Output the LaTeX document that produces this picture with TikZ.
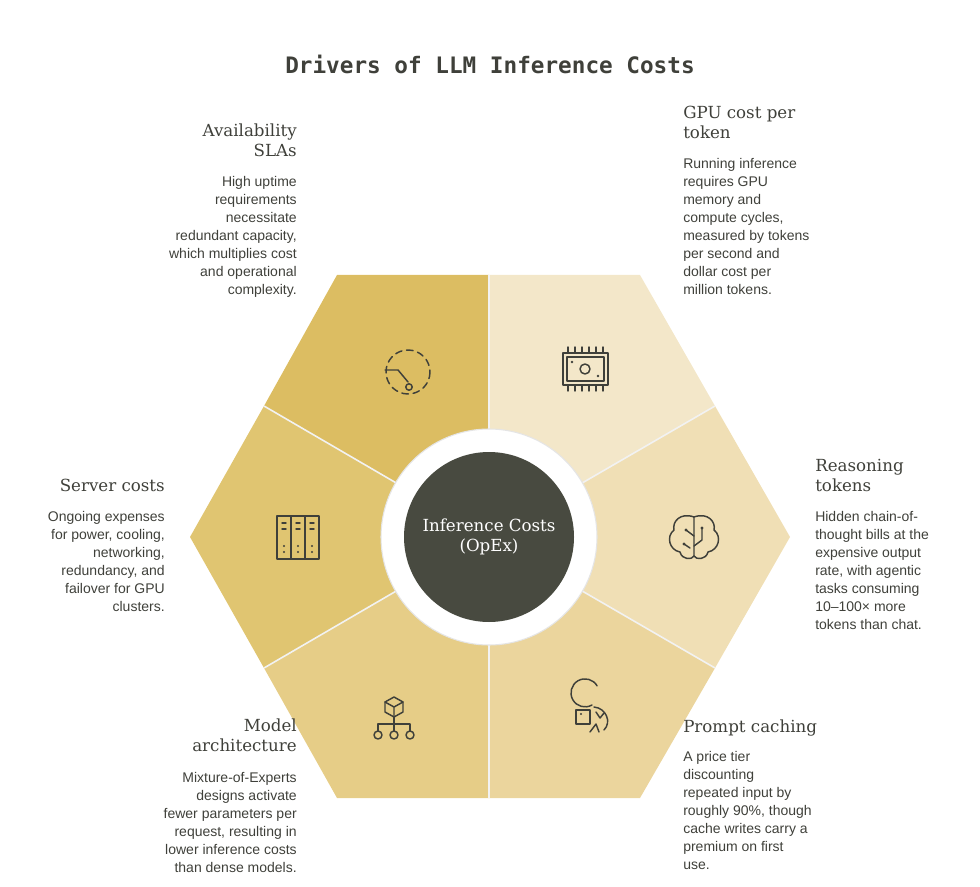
\documentclass[tikz,border=0pt]{standalone}
\usepackage{fontspec}
\setmainfont{Liberation Sans}
\newfontfamily\headfont{DejaVu Serif}
\newfontfamily\titlefont{DejaVu Sans Mono}
\usetikzlibrary{positioning}
\definecolor{ink}{HTML}{3F403A}
\definecolor{hub}{HTML}{484A40}
\definecolor{segA}{HTML}{DCBD62}
\definecolor{segB}{HTML}{F3E7C9}
\definecolor{segC}{HTML}{F0DFB5}
\definecolor{segD}{HTML}{EBD59D}
\definecolor{segE}{HTML}{E6CD87}
\definecolor{segF}{HTML}{E0C571}
\tikzset{
  head/.style={font=\headfont\fontsize{12.5}{15}\selectfont, text=ink, inner sep=0pt},
  body/.style={font=\fontsize{10.5}{13.5}\selectfont, text=ink, inner sep=0pt},
  icon/.style={draw=ink, line width=1.1pt, line cap=round, line join=round},
  split/.style={draw=white!90!gray, line width=1.2pt}
}
\begin{document}
\begin{tikzpicture}[x=0.75pt,y=-0.75pt]
\useasboundingbox (0,0) rectangle (980,887);
% sectors
\coordinate (c) at (489,537);
\coordinate (m1) at (489,275);
\coordinate (m2) at (715,406);
\coordinate (m3) at (715,668);
\coordinate (m4) at (489,798);
\coordinate (m5) at (264,668);
\coordinate (m6) at (264,406);
\fill [segA] (c) -- (m6) -- (337,275) -- (m1) -- cycle;
\fill [segB] (c) -- (m1) -- (640,275) -- (m2) -- cycle;
\fill [segC] (c) -- (m2) -- (790,537) -- (m3) -- cycle;
\fill [segD] (c) -- (m3) -- (640,798) -- (m4) -- cycle;
\fill [segE] (c) -- (m4) -- (337,798) -- (m5) -- cycle;
\fill [segF] (c) -- (m5) -- (190,537) -- (m6) -- cycle;
\foreach \m in {m1,m2,m3,m4,m5,m6}
  \draw [split] (c) -- (\m);
% hub
\fill [white] (c) circle (108);
\draw [gray!20, line width=0.8pt] (c) circle (108);
\fill [hub] (c) circle (85);
\node [head, text=white, align=center] (hubtext) at (c) {Inference Costs\\(OpEx)};
% title
\node [font=\titlefont\bfseries\fontsize{17}{20}\selectfont, text=ink] (title) at (490,64) {Drivers of LLM Inference Costs};
% labels
\node [head, align=right, anchor=north east] (slaH) at (297,124) {Availability\\SLAs};
\node [body, align=right, anchor=north east] (slaB) at (297,176) {High uptime\\requirements\\necessitate\\redundant capacity,\\which multiplies cost\\and operational\\complexity.};
\node [head, align=left, anchor=north west] (gpuH) at (683,106) {GPU cost per\\token};
\node [body, align=left, anchor=north west] (gpuB) at (683,158) {Running inference\\requires GPU\\memory and\\compute cycles,\\measured by tokens\\per second and\\dollar cost per\\million tokens.};
\node [head, align=left, anchor=north west] (reaH) at (815,459) {Reasoning\\tokens};
\node [body, align=left, anchor=north west] (reaB) at (815,511) {Hidden chain-of-\\thought bills at the\\expensive output\\rate, with agentic\\tasks consuming\\10–100× more\\tokens than chat.};
\node [head, align=left, anchor=north west] (proH) at (683,720) {Prompt caching};
\node [body, align=left, anchor=north west] (proB) at (683,751) {A price tier\\discounting\\repeated input by\\roughly 90\%, though\\cache writes carry a\\premium on first\\use.};
\node [head, align=right, anchor=north east] (modH) at (297,719) {Model\\architecture};
\node [body, align=right, anchor=north east] (modB) at (297,772) {Mixture-of-Experts\\designs activate\\fewer parameters per\\request, resulting in\\lower inference costs\\than dense models.};
\node [head, align=right, anchor=north east] (srvH) at (165,479) {Server costs};
\node [body, align=right, anchor=north east] (srvB) at (165,511) {Ongoing expenses\\for power, cooling,\\networking,\\redundancy, and\\failover for GPU\\clusters.};
% icon: availability
\draw [icon, dash pattern=on 5pt off 3.5pt] (408,372) circle (22);
\draw [icon] (385,370) -- (398,370) -- (408,382);
\draw [icon, fill=segA] (409,387) circle (3.2);
% icon: gpu chip
\draw [icon] (563,353) rectangle (608,385);
\draw [icon] (567,357) rectangle (604,381);
\draw [icon] (585,369) circle (5);
\fill [ink] (572,362) circle (1.3) (598,376) circle (1.3);
\foreach \x in {568,575,582,589,596,603}
  \draw [icon] (\x,347) -- (\x,353) (\x,385) -- (\x,391);
% icon: brain
\draw [icon] (694,517) .. controls (680,512) and (672,522) .. (674,530)
  .. controls (666,536) and (669,550) .. (680,552) .. controls (682,560) and (692,560) .. (694,556) -- cycle;
\draw [icon] (694,517) .. controls (708,512) and (716,522) .. (714,530)
  .. controls (722,536) and (719,550) .. (708,552) .. controls (706,560) and (696,560) .. (694,556);
\draw [icon] (686,530) -- (694,536) (702,528) -- (702,540) -- (694,546) (684,544) -- (690,548);
\fill [ink] (686,530) circle (1.6) (702,528) circle (1.6) (684,544) circle (1.6);
% icon: servers
\draw [icon] (277,516) rectangle (319,559);
\draw [icon] (291,516) -- (291,559) (305,516) -- (305,559);
\foreach \x in {282,296,310} {
  \draw [icon] (\x,523) -- (\x+4,523) (\x,529) -- (\x+4,529);
  \fill [ink] (\x+2,546) circle (1.2) (\x+2,552) circle (1.2);
}
% icon: hierarchy
\draw [icon] (394,697) -- (403,702) -- (403,712) -- (394,717) -- (385,712) -- (385,702) -- cycle;
\draw [icon] (385,702) -- (394,707) -- (403,702) (394,707) -- (394,717);
\draw [icon] (394,717) -- (394,724) (378,731) -- (378,724) -- (410,724) -- (410,731) (394,724) -- (394,731);
\foreach \x in {378,394,410}
  \draw [icon] (\x,735) circle (4);
% icon: caching
\draw [icon] (592,705) arc (60:330:14);
\draw [icon] (576,710) rectangle (590,724);
\fill [ink] (581,714) circle (1.2);
\draw [icon] (594,707) .. controls (606,708) and (612,722) .. (604,730);
\draw [icon] (596,712) -- (600,718) -- (604,713);
\draw [icon] (590,732) -- (596,724) -- (599,732);
\end{tikzpicture}
\end{document}
